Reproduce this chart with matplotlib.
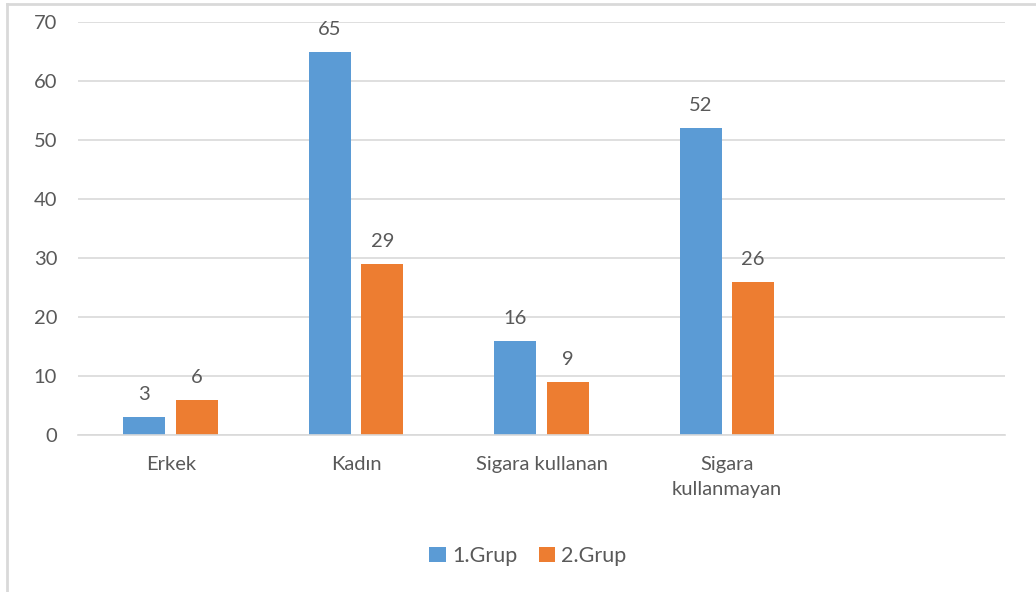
import matplotlib
matplotlib.use("Agg")
import matplotlib.pyplot as plt
from matplotlib.patches import Patch
from matplotlib.lines import Line2D
import numpy as np

categories = ["Erkek", "Kadın", "Sigara kullanan", "Sigara\nkullanmayan", ""]
grup1 = [3, 65, 16, 52, None]
grup2 = [6, 29, 9, 26, None]
series_names = ["1.Grup", "2.Grup"]
yticks = [0, 10, 20, 30, 40, 50, 60, 70]

BLUE = "#5b9bd5"
ORANGE = "#ed7d31"
TEXT = "#595959"
GRID = "#d9d9d9"
FS = 14.5

plt.rcParams["font.family"] = ["Lato", "DejaVu Sans"]

fig = plt.figure(figsize=(10.36, 5.92), dpi=100)
ax = fig.add_axes([78 / 1036, 1 - 435 / 592, (1005 - 78) / 1036, (435 - 22) / 592])

x = np.arange(len(categories))
width = 0.226
offset = 0.142

for vals, color, sign in [(grup1, BLUE, -1), (grup2, ORANGE, 1)]:
    xs = [xi + sign * offset for xi, v in zip(x, vals) if v is not None]
    vs = [v for v in vals if v is not None]
    bars = ax.bar(xs, vs, width=width, color=color, zorder=3)
    for b, v in zip(bars, vs):
        ax.annotate(str(v), (b.get_x() + b.get_width() / 2, v),
                    xytext=(0, 10), textcoords="offset points",
                    ha="center", va="bottom", fontsize=FS, color=TEXT)

ax.set_xlim(-0.5, len(categories) - 0.5)
ax.set_ylim(0, 70)
ax.set_yticks(yticks)
ax.set_xticks(x)
ax.set_xticklabels(categories, fontsize=FS, color=TEXT, linespacing=1.55)
ax.tick_params(axis="y", length=0, pad=15, labelsize=FS, labelcolor=TEXT)
ax.tick_params(axis="x", length=0, pad=15)
for lbl in ax.get_xticklabels():
    lbl.set_verticalalignment("top")

ax.grid(axis="y", color=GRID, linewidth=1.2, zorder=0)
for s in ["top", "right", "left"]:
    ax.spines[s].set_visible(False)
ax.spines["bottom"].set_color(GRID)
ax.spines["bottom"].set_linewidth(1.2)
ax.spines["bottom"].set_zorder(4)

handles = [Patch(facecolor=BLUE), Patch(facecolor=ORANGE)]
fig.legend(handles, series_names, loc="center", bbox_to_anchor=(528 / 1036, 1 - 556 / 592),
           ncol=2, frameon=False, fontsize=15.5, labelcolor=TEXT,
           handlelength=0.75, handleheight=0.75, handletextpad=0.3, columnspacing=1.0)

# chart frame
fig.add_artist(Line2D([7 / 1036, 7 / 1036], [0, 1 - 4 / 592], transform=fig.transFigure,
                      color=GRID, linewidth=2))
fig.add_artist(Line2D([7 / 1036, 1], [1 - 4 / 592, 1 - 4 / 592], transform=fig.transFigure,
                      color=GRID, linewidth=2))

fig.savefig("out.png", dpi=100)
